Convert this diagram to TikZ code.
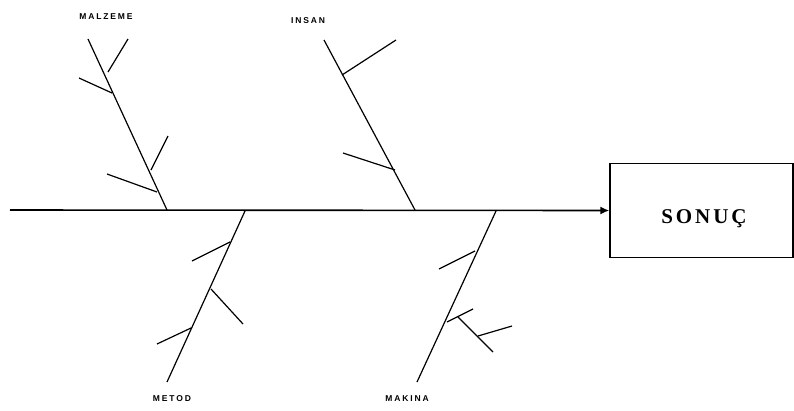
\documentclass[tikz,border=0pt]{standalone}
\usepackage{fontspec}
\setmainfont{Liberation Serif}
\newfontfamily\labfont[LetterSpace=22]{Liberation Sans}
\newfontfamily\resfont[LetterSpace=14]{Liberation Serif}
\usetikzlibrary{arrows.meta}
\begin{document}
\begin{tikzpicture}[x=1pt,y=-1pt,
  bone/.style={line width=1.2pt},
  spine/.style={line width=1.6pt},
  lab/.style={font=\labfont\fontsize{8.5}{9}\selectfont\bfseries, inner sep=0pt},
  resbox/.style={draw, line width=1.4pt, minimum width=183pt, minimum height=94pt, inner sep=0pt},
  restext/.style={font=\resfont\fontsize{21}{23}\selectfont\bfseries}]
\useasboundingbox (0,0) rectangle (794,410);
% result box
\node[resbox] (box) at (701.5,210.5) {};
\node[restext] (sonuc) at (704,219) {SONUÇ};
% spine
\coordinate (s0) at (10,210);
\draw[spine, -{Latex[length=9pt,width=8pt]}] (s0) -- (box.west);
% MALZEME
\coordinate (m0) at (167,210); \coordinate (m1) at (88,39);
\coordinate (mj1) at (108,72); \coordinate (mt1) at (128,39);
\coordinate (mj2) at (112,93); \coordinate (mt2) at (79,78);
\coordinate (mj3) at (151,170); \coordinate (mt3) at (168,136);
\coordinate (mj4) at (157,192); \coordinate (mt4) at (107,174);
\draw[bone] (m0) -- (m1);
\draw[bone] (mj1) -- (mt1);
\draw[bone] (mj2) -- (mt2);
\draw[bone] (mj3) -- (mt3);
\draw[bone] (mj4) -- (mt4);
\node[lab] (malzeme) at (106,17) {MALZEME};
% INSAN
\coordinate (i0) at (415,210); \coordinate (i1) at (324,40);
\coordinate (ij1) at (342,75); \coordinate (it1) at (396,40);
\coordinate (ij2) at (395,170); \coordinate (it2) at (343,153);
\draw[bone] (i0) -- (i1);
\draw[bone] (ij1) -- (it1);
\draw[bone] (ij2) -- (it2);
\node[lab] (insan) at (308,21) {INSAN};
% METOD
\coordinate (e0) at (245,211); \coordinate (e1) at (167,382);
\coordinate (ej1) at (230,242); \coordinate (et1) at (192,261);
\coordinate (ej2) at (211,289); \coordinate (et2) at (243,324);
\coordinate (ej3) at (191,328); \coordinate (et3) at (157,344);
\draw[bone] (e0) -- (e1);
\draw[bone] (ej1) -- (et1);
\draw[bone] (ej2) -- (et2);
\draw[bone] (ej3) -- (et3);
\node[lab] (metod) at (172,399) {METOD};
% MAKINA
\coordinate (k0) at (496,211); \coordinate (k1) at (417,382);
\coordinate (kj1) at (475,251); \coordinate (kt1) at (439,269);
\coordinate (kj2) at (447,322); \coordinate (kt2) at (473,309);
\coordinate (kj3) at (458,317); \coordinate (kt3) at (493,352);
\coordinate (kj4) at (478,336); \coordinate (kt4) at (512,326);
\draw[bone] (k0) -- (k1);
\draw[bone] (kj1) -- (kt1);
\draw[bone] (kj2) -- (kt2);
\draw[bone] (kj3) -- (kt3);
\draw[bone] (kj4) -- (kt4);
\node[lab] (makina) at (407,399) {MAKINA};
\end{tikzpicture}
\end{document}
